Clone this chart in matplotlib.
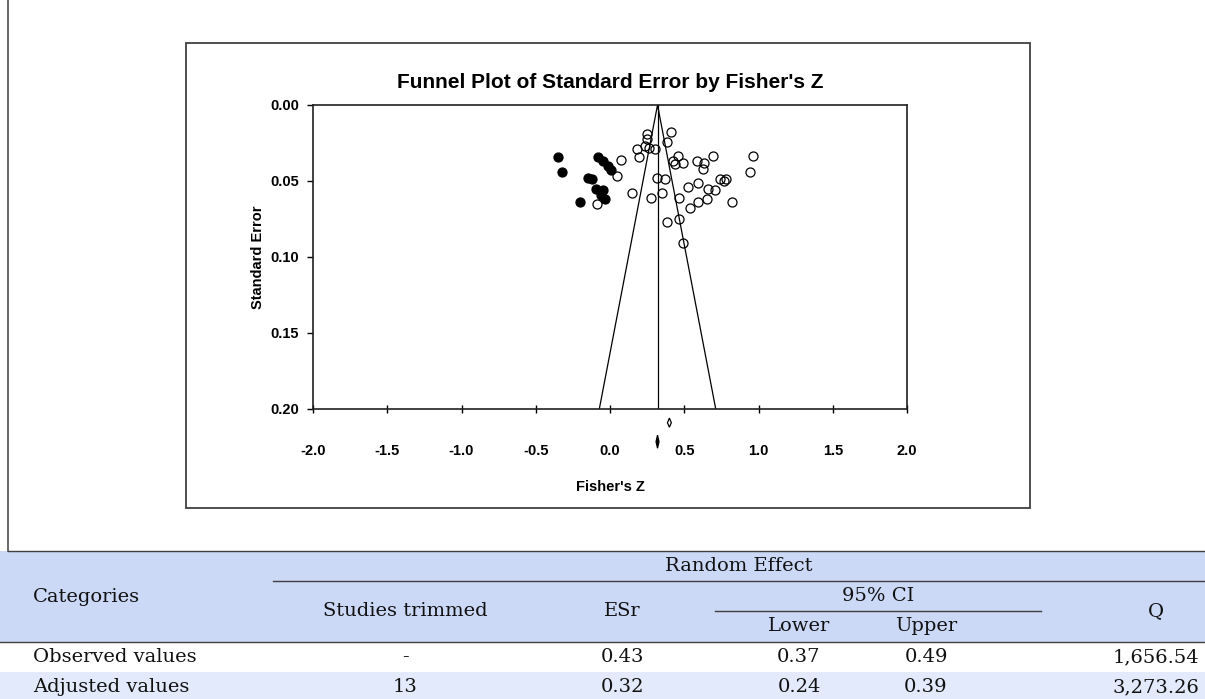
import matplotlib
matplotlib.use("Agg")
import matplotlib.pyplot as plt
from matplotlib.patches import Polygon, Rectangle

# ---------------- DATA ----------------
# observed studies (hollow circles): Fisher's Z, standard error
obs_z = [0.072, 0.045, 0.146, -0.090, 0.180, 0.198, 0.247, 0.247, 0.236, 0.260,
         0.303, 0.409, 0.386, 0.314, 0.370, 0.274, 0.348, 0.382, 0.465, 0.494,
         0.465, 0.427, 0.455, 0.490, 0.440, 0.588, 0.633, 0.624, 0.696, 0.527,
         0.595, 0.662, 0.707, 0.741, 0.781, 0.770, 0.595, 0.539, 0.651, 0.819,
         0.965, 0.943]
obs_se = [0.036, 0.047, 0.058, 0.065, 0.029, 0.034, 0.019, 0.0226, 0.027, 0.028,
          0.029, 0.0175, 0.0245, 0.048, 0.049, 0.061, 0.058, 0.077, 0.075, 0.091,
          0.061, 0.037, 0.0335, 0.038, 0.039, 0.037, 0.038, 0.042, 0.0335, 0.054,
          0.0515, 0.055, 0.056, 0.049, 0.049, 0.050, 0.0636, 0.068, 0.062, 0.064,
          0.0335, 0.044]

# imputed (trimmed and filled) studies: black dots
imp_z = [-0.348, -0.325, -0.079, -0.048, -0.015, 0.008, -0.150, -0.118,
         -0.092, -0.045, -0.202, -0.034, -0.060]
imp_se = [0.034, 0.044, 0.034, 0.037, 0.040, 0.043, 0.048, 0.049,
          0.055, 0.056, 0.064, 0.062, 0.059]

mean_z = 0.32      # adjusted combined effect (funnel centre)
se_max = 0.20

# combined effect diamonds under the axis: observed, adjusted
dia_z = [0.40, 0.32]
dia_y = [0.209, 0.2215]
dia_hw = [0.013, 0.010]
dia_hh = [0.003, 0.0043]
dia_fill = ["white", "black"]

x_ticks = [-2.0, -1.5, -1.0, -0.5, 0.0, 0.5, 1.0, 1.5, 2.0]
y_ticks = [0.00, 0.05, 0.10, 0.15, 0.20]

# table
col_head = ["Studies trimmed", "ESr", "Lower", "Upper", "Q"]
row_names = ["Observed values", "Adjusted values"]
observed_vals = ["-", "0.43", "0.37", "0.49", "1,656.54"]
adjusted_vals = ["13", "0.32", "0.24", "0.39", "3,273.26"]

# ---------------- FIGURE ----------------
W, H = 1205, 699
fig = plt.figure(figsize=(W / 100, H / 100), dpi=100)

# page layer in pixel coordinates
bg = fig.add_axes([0, 0, 1, 1], zorder=0)
bg.set_xlim(0, W)
bg.set_ylim(H, 0)
bg.axis("off")

# outer image frame + chart box
bg.plot([8, 8], [0, 551], color="#505050", lw=1.2)
bg.add_patch(Rectangle((186, 43), 1030 - 186, 508 - 43, fill=False,
                       ec="#404040", lw=1.3))

# table header background and shaded row
bg.add_patch(Rectangle((0, 551), W, 91, color="#cbd8f6", lw=0))
bg.add_patch(Rectangle((0, 672), W, 27, color="#e2eafb", lw=0))
bg.plot([8, W], [551, 551], color="#404040", lw=1.0)
bg.plot([273, W], [581, 581], color="#404040", lw=1.0)
bg.plot([715, 1041], [611, 611], color="#404040", lw=1.0)
bg.plot([0, W], [642, 642], color="#404040", lw=1.0)

tfont = dict(family="DejaVu Serif", fontsize=14, color="#111111")
col_x = [405, 622, 799, 926, 1156]
col_y = [611, 611, 626, 626, 611]
bg.text(739, 566, "Random Effect", ha="center", va="center", **tfont)
bg.text(878, 596, "95% CI", ha="center", va="center", **tfont)
bg.text(33, 597, "Categories", ha="left", va="center", **tfont)
for x, y, s in zip(col_x, col_y, col_head):
    bg.text(x, y, s, ha="center", va="center", **tfont)
for y, name, vals in zip([657, 687], row_names, [observed_vals, adjusted_vals]):
    bg.text(33, y, name, ha="left", va="center", **tfont)
    for x, s in zip(col_x, vals):
        bg.text(x, y, s, ha="center", va="center", **tfont)

# ---------------- FUNNEL PLOT ----------------
ax = fig.add_axes([313 / W, 1 - 409 / H, 594 / W, 304 / H], zorder=1)
ax.set_xlim(-2.0, 2.0)
ax.set_ylim(se_max, 0.0)

ax.plot([mean_z - 1.96 * se_max, mean_z, mean_z + 1.96 * se_max],
        [se_max, 0.0, se_max], color="black", lw=0.9)
ax.plot([mean_z, mean_z], [0.0, se_max], color="black", lw=0.9)

ax.plot(obs_z, obs_se, "o", ms=6.5, mfc="none", mec="black", mew=0.9)
ax.plot(imp_z, imp_se, "o", ms=6.5, mfc="black", mec="black", mew=0.9)

for z, y, hw, hh, fc in zip(dia_z, dia_y, dia_hw, dia_hh, dia_fill):
    ax.add_patch(Polygon([(z - hw, y), (z, y - hh), (z + hw, y), (z, y + hh)],
                         closed=True, fc=fc, ec="black", lw=0.9, clip_on=False))

for sp in ax.spines.values():
    sp.set_linewidth(1.2)
    sp.set_color("#202020")

lab = dict(family="Liberation Sans", fontsize=10.5, fontweight="bold")
ax.set_xticks(x_ticks)
ax.set_xticklabels([f"{v:.1f}" for v in x_ticks], **lab)
ax.set_yticks(y_ticks)
ax.set_yticklabels([f"{v:.2f}" for v in y_ticks], **lab)
ax.tick_params(axis="x", direction="inout", length=6, width=1, pad=22)
ax.tick_params(axis="y", direction="out", length=4, width=1, pad=6)

ax.set_xlabel("Fisher's Z", **lab)
ax.xaxis.set_label_coords(0.5, -0.235)
ax.set_ylabel("Standard Error", **lab)
ax.yaxis.set_label_coords(-0.08, 0.5)

fig.text(610 / W, 1 - 82 / H, "Funnel Plot of Standard Error by Fisher's Z",
         ha="center", va="center", family="Liberation Sans", fontsize=15,
         fontweight="bold")

fig.savefig("out.png", dpi=100)
